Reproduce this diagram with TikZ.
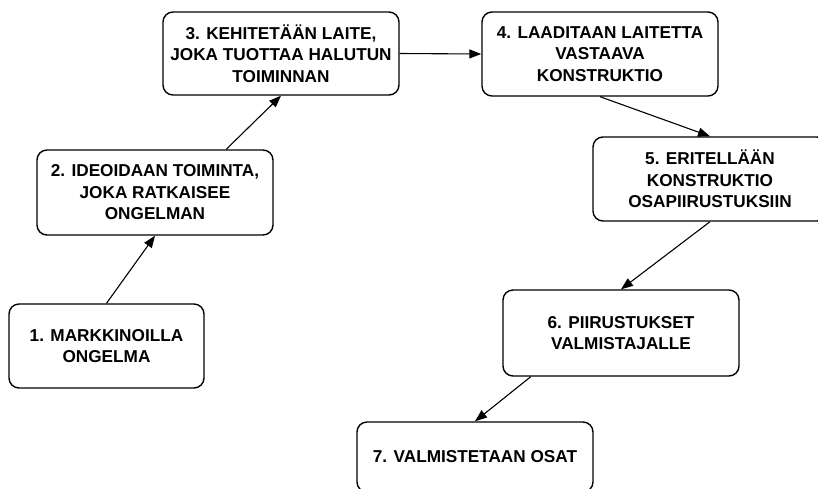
\documentclass[tikz,border=0pt]{standalone}
\usepackage{fontspec}
\setmainfont{Liberation Sans}
\usetikzlibrary{arrows.meta,calc}
\begin{document}
\begin{tikzpicture}[x=1pt,y=-1pt,
  stepbox/.style={draw=black,line width=1.4pt,rounded corners=10pt,fill=white,
    align=center,inner sep=0pt,font=\fontsize{17.2}{21.5}\selectfont\bfseries,
    minimum width=236pt,minimum height=84pt},
  conn/.style={draw=black,line width=1.1pt,-{Triangle[length=12pt,width=9pt]}}]
\useasboundingbox (0,0) rectangle (818,488);
\node[stepbox,minimum width=195pt] (b1) at (106.5,346) {1. MARKKINOILLA\\ONGELMA};
\node[stepbox,minimum height=85pt] (b2) at (155,192.5) {2. IDEOIDAAN TOIMINTA,\\JOKA RATKAISEE\\ONGELMAN};
\node[stepbox,minimum height=83pt] (b3) at (281,53.5) {3. KEHITETÄÄN LAITE,\\JOKA TUOTTAA HALUTUN\\TOIMINNAN};
\node[stepbox] (b4) at (600,54) {4. LAADITAAN LAITETTA\\VASTAAVA\\KONSTRUKTIO};
\node[stepbox,minimum width=234pt] (b5) at (710,179) {5. ERITELLÄÄN\\KONSTRUKTIO\\OSAPIIRUSTUKSIIN};
\node[stepbox,minimum width=236pt,minimum height=86pt] (b6) at (621,333) {6. PIIRUSTUKSET\\VALMISTAJALLE};
\node[stepbox,minimum height=70pt] (b7) at (475,457) {7. VALMISTETAAN OSAT};
\coordinate (s2) at ($(b2.north west)!0.8!(b2.north east)$);
\coordinate (s6) at ($(b6.south west)!0.12!(b6.south east)$);
\draw[conn] (b1.north) -- (b2.south);
\draw[conn] (s2) -- (b3.south);
\draw[conn] (b3.east) -- (b4.west);
\draw[conn] (b4.south) -- (b5.north);
\draw[conn] (b5.south) -- (b6.north);
\draw[conn] (s6) -- (b7.north);
\end{tikzpicture}
\end{document}
